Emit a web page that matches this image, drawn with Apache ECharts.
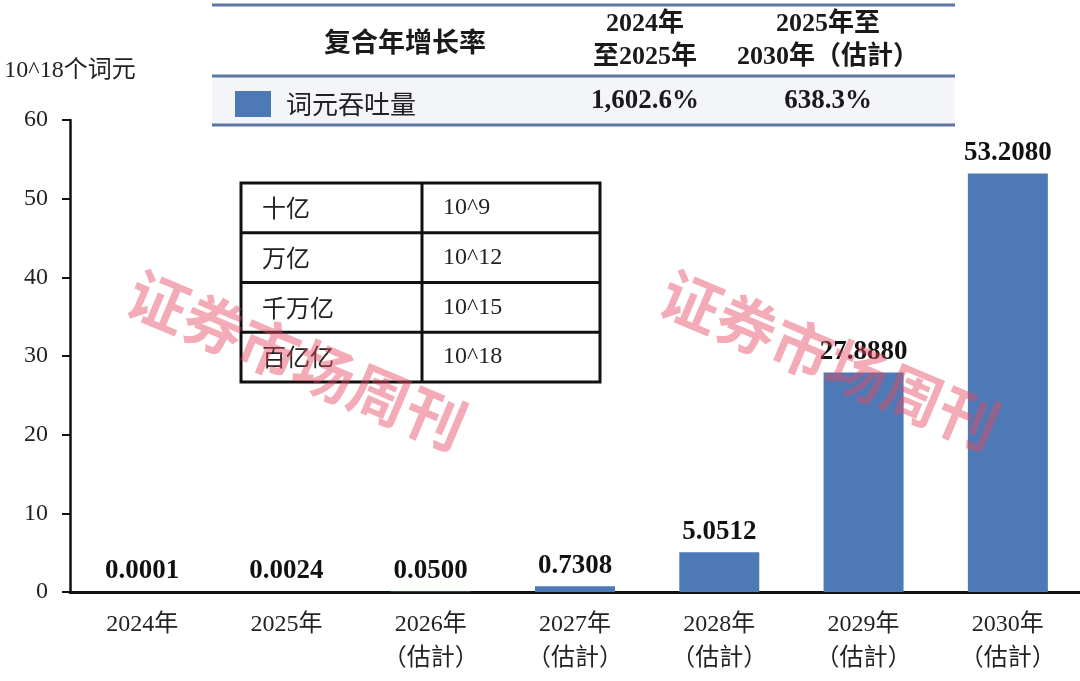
<!DOCTYPE html>
<html>
<head>
<meta charset="utf-8">
<script src="https://cdn.jsdelivr.net/npm/echarts@6/dist/echarts.min.js"></script>
<style>
  html, body { margin: 0; padding: 0; background: #fff; }
  #chart { width: 1080px; height: 681px; }
</style>
</head>
<body>
<div id="chart"></div>
<script>
// chart data
const categories = ['2024年', '2025年', '2026年\n（估計）', '2027年\n（估計）', '2028年\n（估計）', '2029年\n（估計）', '2030年\n（估計）'];
const tokenThroughput = [0.0001, 0.0024, 0.0500, 0.7308, 5.0512, 27.8880, 53.2080];
const seriesName = '词元吞吐量';
const yAxisName = '10^18个词元';
const yTicks = { min: 0, max: 60, interval: 10 };

// CAGR table
const cagrTitle = '复合年增长率';
const cagrHeaders = ['2024年\n至2025年', '2025年至\n2030年（估計）'];
const cagrValues = ['1,602.6%', '638.3%'];

// unit table
const unitNames = ['十亿', '万亿', '千万亿', '百亿亿'];
const unitPowers = ['10^9', '10^12', '10^15', '10^18'];

const watermark = '证券市场周刊';

const SERIF = '"Liberation Serif", "Noto Sans CJK SC", serif';
const CJK = '"Noto Sans CJK SC", "Liberation Serif", sans-serif';
const BLUE = '#4d7ab6';
const RULE = '#5d77a0';

const chart = echarts.init(document.getElementById('chart'));

// CAGR table graphics
const tbl = [];
tbl.push({ type: 'rect', shape: { x: 212, y: 77, width: 743, height: 47 }, style: { fill: '#f3f5f9' }, z: 0 });
[5, 76, 125].forEach(y => {
  tbl.push({ type: 'line', shape: { x1: 212, y1: y, x2: 955, y2: y }, style: { stroke: RULE, lineWidth: 3 }, z: 1 });
});
tbl.push({ type: 'text', x: 405, y: 42, style: { text: cagrTitle, font: '600 27px ' + CJK, fill: '#1a1a1a', textAlign: 'center', textVerticalAlign: 'middle' } });
const colX = [645, 828];
cagrHeaders.forEach((h, i) => {
  tbl.push({ type: 'text', x: colX[i], y: 41, style: { text: h, font: 'bold 26px ' + SERIF, fill: '#1a1a1a', textAlign: 'center', textVerticalAlign: 'middle', lineHeight: 33 } });
});
cagrValues.forEach((v, i) => {
  tbl.push({ type: 'text', x: colX[i], y: 101, style: { text: v, font: 'bold 27px ' + SERIF, fill: '#1a1a1a', textAlign: 'center', textVerticalAlign: 'middle' } });
});

// unit table graphics
const ux = 241, uy = 183, uw = 359, rowH = 49.75, splitX = 422;
const units = [];
units.push({ type: 'rect', shape: { x: ux, y: uy, width: uw, height: rowH * unitNames.length }, style: { fill: '#fff', stroke: '#111', lineWidth: 3 }, z: 5 });
units.push({ type: 'line', shape: { x1: splitX, y1: uy, x2: splitX, y2: uy + rowH * unitNames.length }, style: { stroke: '#111', lineWidth: 3 }, z: 6 });
unitNames.forEach((n, i) => {
  if (i > 0) units.push({ type: 'line', shape: { x1: ux, y1: uy + rowH * i, x2: ux + uw, y2: uy + rowH * i }, style: { stroke: '#111', lineWidth: 3 }, z: 6 });
  const cy = uy + rowH * i + rowH / 2;
  units.push({ type: 'text', x: 262, y: cy, style: { text: n, font: '24px ' + CJK, fill: '#222', textVerticalAlign: 'middle' }, z: 7 });
  units.push({ type: 'text', x: 443, y: cy, style: { text: unitPowers[i], font: '24px ' + SERIF, fill: '#222', textVerticalAlign: 'middle' }, z: 7 });
});

// watermarks
const marks = [[297, 360], [830, 360]].map(p => ({
  type: 'text', x: p[0], y: p[1], rotation: -0.4, z: 50,
  style: { text: watermark, font: 'bold 60px ' + CJK, fill: 'rgba(228,70,95,0.45)', textAlign: 'center', textVerticalAlign: 'middle' }
}));

chart.setOption({
  backgroundColor: '#fff',
  animation: false,
  grid: { left: 70, right: 0, top: 120, bottom: 89 },
  legend: {
    data: [seriesName],
    left: 230, top: 86,
    itemWidth: 36, itemHeight: 26,
    icon: 'rect',
    textStyle: { fontFamily: CJK, fontSize: 26, color: '#222', padding: [0, 0, 0, 10] }
  },
  xAxis: {
    type: 'category',
    data: categories,
    axisLine: { lineStyle: { color: '#111', width: 3 } },
    axisTick: { show: false },
    axisLabel: { fontFamily: SERIF, fontSize: 24, color: '#222', lineHeight: 34, margin: 16, interval: 0 }
  },
  yAxis: {
    type: 'value',
    min: yTicks.min, max: yTicks.max, interval: yTicks.interval,
    name: yAxisName,
    nameLocation: 'end',
    nameGap: 37,
    nameTextStyle: { fontFamily: SERIF, fontSize: 24, color: '#222', align: 'center' },
    axisLine: { show: true, lineStyle: { color: '#111', width: 2.5 } },
    axisTick: { show: true, length: 8, lineStyle: { color: '#111', width: 2 } },
    axisLabel: { fontFamily: SERIF, fontSize: 24, color: '#222', margin: 22 },
    splitLine: { show: false }
  },
  series: [{
    name: seriesName,
    type: 'bar',
    data: tokenThroughput,
    barWidth: 80,
    itemStyle: { color: BLUE },
    label: {
      show: true,
      position: 'top',
      distance: 7,
      formatter: p => p.value.toFixed(4),
      fontFamily: SERIF, fontSize: 27, fontWeight: 'bold', color: '#111'
    },
    z: 2
  }],
  graphic: [].concat(tbl, units, marks)
});
</script>
</body>
</html>
